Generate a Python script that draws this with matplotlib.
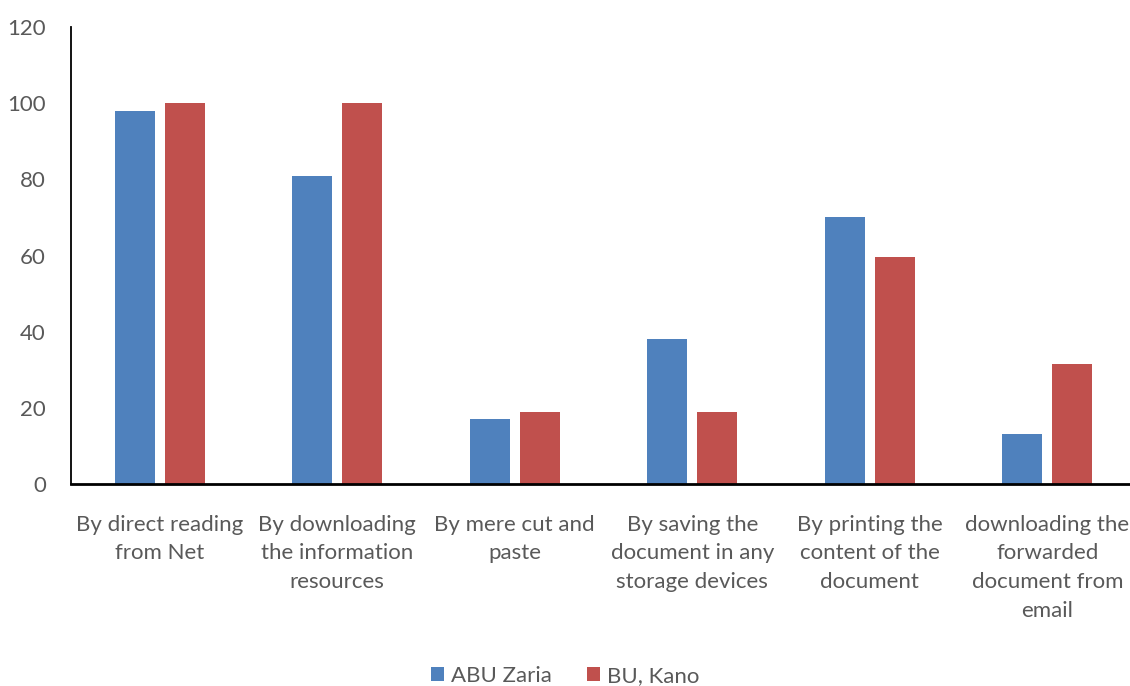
import numpy as np
import matplotlib
matplotlib.use('Agg')
from matplotlib import pyplot as plt

# data
categories = ['By direct reading\nfrom Net',
              'By downloading\nthe information\nresources',
              'By mere cut and\npaste',
              'By saving the\ndocument in any\nstorage devices',
              'By printing the\ncontent of the\ndocument',
              'downloading the\nforwarded\ndocument from\nemail']
abu_zaria = [98, 81, 17, 38, 70, 13]
bu_kano = [100, 100, 19, 19, 59.5, 31.5]
series_names = ['ABU Zaria', 'BU, Kano']
yticks = [0, 20, 40, 60, 80, 100, 120]

plt.rcParams['font.family'] = ['Lato', 'DejaVu Sans']
grey = '#595959'

fig = plt.figure(figsize=(11.3, 6.86), dpi=100)
ax = fig.add_axes([71 / 1130, 1 - 484 / 686, 1065 / 1130, 457 / 686])

x = np.arange(len(categories))
w = 0.225
off = 0.141
ax.bar(x - off, abu_zaria, w, color='#4f81bd', label=series_names[0])
ax.bar(x + off, bu_kano, w, color='#c0504d', label=series_names[1])

ax.set_xlim(-0.5, len(categories) - 0.5)
ax.set_ylim(0, 120)
ax.set_yticks(yticks)
ax.set_xticks(x)
ax.set_xticklabels(categories, linespacing=1.55)

for s in ['top', 'right']:
    ax.spines[s].set_visible(False)
ax.spines['left'].set_linewidth(1.3)
ax.spines['bottom'].set_linewidth(2)
ax.tick_params(axis='both', length=0, labelsize=16, colors=grey)
ax.tick_params(axis='y', pad=18)
ax.tick_params(axis='x', pad=22)

fig.legend(loc='center', bbox_to_anchor=(0.5, 1 - 676 / 686), ncol=2,
           frameon=False, fontsize=16, labelcolor=grey,
           handlelength=0.6, handleheight=0.6, handletextpad=0.3,
           columnspacing=1.6)

fig.savefig('out.png', dpi=100)
